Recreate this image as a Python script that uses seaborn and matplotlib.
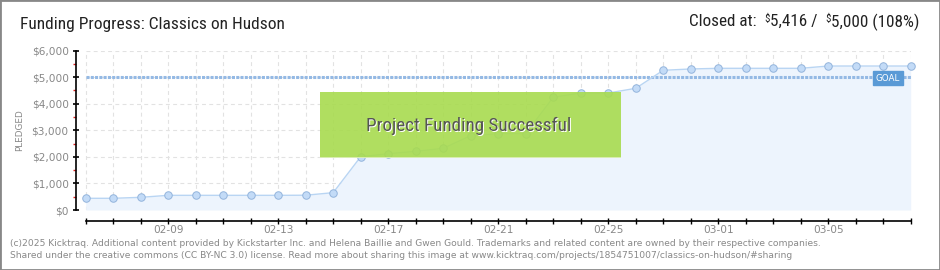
import numpy as np
import pandas as pd
import matplotlib
matplotlib.use("Agg")
import matplotlib.pyplot as plt
import seaborn as sns
from matplotlib import font_manager
from matplotlib.patches import Rectangle
from matplotlib.offsetbox import TextArea, HPacker, AnchoredOffsetbox

# ---------------- data ----------------
dates = ["02-06", "02-07", "02-08", "02-09", "02-10", "02-11", "02-12", "02-13",
         "02-14", "02-15", "02-16", "02-17", "02-18", "02-19", "02-20", "02-21",
         "02-22", "02-23", "02-24", "02-25", "02-26", "02-27", "02-28", "03-01",
         "03-02", "03-03", "03-04", "03-05", "03-06", "03-07", "03-08"]
pledged = [440, 440, 477, 552, 552, 552, 552, 552,
           556, 652, 2005, 2118, 2208, 2320, 2796, 2870,
           2870, 4240, 4400, 4400, 4577, 5255, 5305, 5330,
           5330, 5330, 5330, 5416, 5416, 5416, 5416]
goal = 5000
ytick_values = [0, 1000, 2000, 3000, 4000, 5000, 6000]
ytick_labels = [r"\$0", r"\$1,000", r"\$2,000", r"\$3,000", r"\$4,000", r"\$5,000", r"\$6,000"]
xlabel_dates = ["02-09", "02-13", "02-17", "02-21", "02-25", "03-01", "03-05"]

df = pd.DataFrame({"day": np.arange(len(dates)), "pledged": pledged})

# ---------------- fonts ----------------
names = {f.name for f in font_manager.fontManager.ttflist}
condensed = [(f.name, f.stretch) for f in font_manager.fontManager.ttflist]
head_family = "DejaVu Sans"
head_stretch = "normal"
for n in ["Liberation Sans Narrow", "Roboto Condensed", "Open Sans Condensed"]:
    if n in names:
        head_family = n
        break
else:
    if any(n == "DejaVu Sans" and s in ("condensed", 500, "semi-condensed") for n, s in condensed):
        head_stretch = "condensed"

sns.set_theme(style="white")
plt.rcParams["font.family"] = ["DejaVu Sans"]

W, H = 940, 270
fig = plt.figure(figsize=(W / 100, H / 100), dpi=100, facecolor="white")

def fx(px):
    return px / W

def fy(py):
    return 1 - py / H

ax_left, ax_right = 76, 910.7
ax_top, ax_bottom = 50.5, 210
ax = fig.add_axes([fx(ax_left), fy(ax_bottom), (ax_right - ax_left) / W, (ax_bottom - ax_top) / H])
ax.set_facecolor("white")

n = len(dates)
x0 = -(85.7 - ax_left) / 27.5
ax.set_xlim(x0, n - 1)
ax.set_ylim(0, 6000)

# grid
gcol = "#e2e2e2"
for d in range(n):
    ax.plot([d, d], [0, 6000], color=gcol, lw=0.8, ls=(0, (3.5, 3)), zorder=0)
for v in ytick_values:
    ax.plot([0, n - 1], [v, v], color=gcol, lw=0.8, ls=(0, (3.5, 3)), zorder=0)

# fill under
ax.fill_between(df["day"], df["pledged"], 0, color="#edf4fd", zorder=1, lw=0)

# goal line
ax.plot([0, n - 1], [goal, goal], color="#94b9e4", lw=2.2, ls=(0, (1.0, 0.4)), zorder=2)

# line + markers
sns.lineplot(data=df, x="day", y="pledged", ax=ax, color="#b9d5f3", lw=1.0,
             marker="o", markersize=5.4, markerfacecolor="#c3dbf7",
             markeredgecolor="#93b4dc", markeredgewidth=0.7, zorder=3, clip_on=False)

# goal label
ax.text(29.17, goal - 40, "GOAL", color="white", fontsize=6.3, ha="center", va="center",
        zorder=6, bbox=dict(boxstyle="square,pad=0.28", fc="#5a9ad6", ec="#5a9ad6"))

# success box
bx0, bx1, by0, by1 = 320, 620.7, 92.3, 158.3
fig.patches.append(Rectangle((fx(bx0), fy(by1)), (bx1 - bx0) / W, (by1 - by0) / H,
                             transform=fig.transFigure, fc="#a8db4f", ec="none", alpha=0.9, zorder=5))
fig.patches.append(Rectangle((fx(bx0), fy(by1)), (bx1 - bx0) / W, 1.5 / H,
                             transform=fig.transFigure, fc="#d8ecb0", ec="none", zorder=5))
cx, cy = (bx0 + bx1) / 2 - 2, 126
fig.text(fx(cx + 1), fy(cy + 1), "Project Funding Successful", fontsize=13.8, color="white",
         ha="center", va="center", family=head_family, fontstretch=head_stretch, zorder=6)
fig.text(fx(cx), fy(cy), "Project Funding Successful", fontsize=13.8, color="#555555",
         ha="center", va="center", family=head_family, fontstretch=head_stretch, zorder=7)

# spines & ticks
for s in ["top", "right"]:
    ax.spines[s].set_visible(False)
ax.spines["left"].set_color("black")
ax.spines["left"].set_linewidth(1.2)
ax.spines["left"].set_bounds(0, 6000)
ax.spines["bottom"].set_color("black")
ax.spines["bottom"].set_linewidth(1.2)
ax.spines["bottom"].set_position(("outward", 10.7 * 0.72))
ax.spines["bottom"].set_bounds(0, n - 1)

ax.set_yticks(ytick_values)
ax.set_yticklabels(ytick_labels)
ax.set_yticks([500, 1500, 2500, 3500, 4500, 5500], minor=True)
ax.tick_params(axis="y", which="major", left=True, direction="inout", length=4.5, width=1.2,
               color="black", labelsize=7.6, labelcolor="#888888", pad=3)
ax.tick_params(axis="y", which="minor", left=True, direction="out", length=2.5, width=1.0,
               color="#e02020")

ax.set_xticks(range(n))
ax.set_xticklabels([d if d in xlabel_dates else "" for d in dates])
ax.tick_params(axis="x", which="major", bottom=True, direction="inout", length=4.5, width=1.0,
               color="black", labelsize=7.6, labelcolor="#888888", pad=1)
ax.set_xlabel("")
ax.set_ylabel("")
ax.grid(False)

fig.text(fx(19.5), fy(130.5), "PLEDGED", rotation=90, fontsize=6.4, color="#888888",
         ha="center", va="center")

# title
fig.text(fx(20), fy(24), "Funding Progress: Classics on Hudson", fontsize=12.5, color="#222222",
         ha="left", va="center", family=head_family, fontstretch=head_stretch)

# closed at
tp = dict(fontsize=12.3, color="#222222", family=head_family, fontstretch=head_stretch)
tps = dict(fontsize=8, color="#222222", family=head_family, fontstretch=head_stretch)
parts = [TextArea("Closed at:  ", textprops=tp), TextArea(r"\$", textprops=tps),
         TextArea("5,416 /  ", textprops=tp), TextArea(r"\$", textprops=tps),
         TextArea("5,000 (108%)", textprops=tp)]
packer = HPacker(children=parts, align="top", pad=0, sep=0)
anch = AnchoredOffsetbox(loc="upper right", child=packer, pad=0, borderpad=0, frameon=False,
                         bbox_to_anchor=(fx(919), fy(14)), bbox_transform=fig.transFigure)
fig.add_artist(anch)

# footer
fig.text(fx(10), fy(243.5),
         "(c)2025 Kicktraq. Additional content provided by Kickstarter Inc. and Helena Baillie and Gwen Gould. "
         "Trademarks and related content are owned by their respective companies.",
         fontsize=6.6, color="#888888", ha="left", va="center")
fig.text(fx(10), fy(255.5),
         "Shared under the creative commons (CC BY-NC 3.0) license. Read more about sharing this image at "
         "www.kicktraq.com/projects/1854751007/classics-on-hudson/#sharing",
         fontsize=6.6, color="#888888", ha="left", va="center")

# border
fig.patches.append(Rectangle((0, 0), 1, 1, transform=fig.transFigure, fill=False,
                             ec="#888888", lw=2.0, zorder=10))

fig.savefig("out.png", dpi=100, facecolor="white")
